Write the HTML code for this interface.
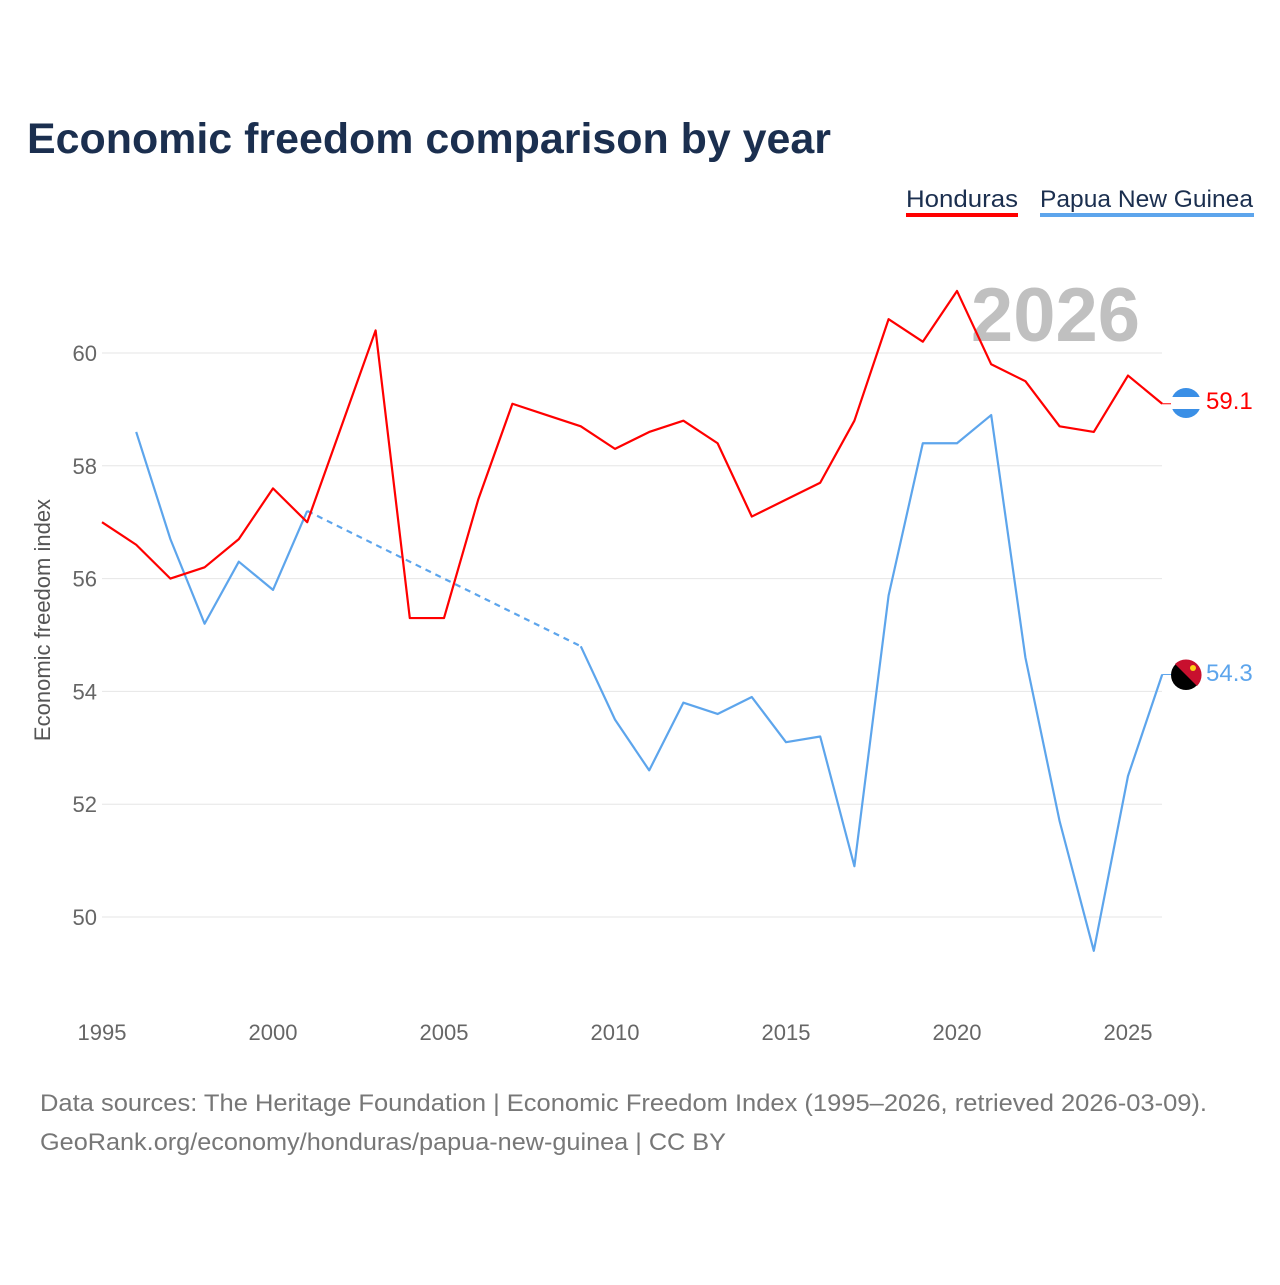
<!DOCTYPE html>
<html><head><meta charset="utf-8"><style>
body{margin:0;background:#fff;font-family:"Liberation Sans",sans-serif;}
</style></head><body>
<svg width="1280" height="1280" xmlns="http://www.w3.org/2000/svg" id="chart" style="font-family:'Liberation Sans',sans-serif">
<text x="27" y="153" font-size="43" font-weight="bold" fill="#1b2f4f" textLength="804" lengthAdjust="spacingAndGlyphs">Economic freedom comparison by year</text>
<g><text x="906" y="207" font-size="24" fill="#1b2f4f" textLength="112" lengthAdjust="spacingAndGlyphs">Honduras</text><rect x="906" y="213" width="112" height="4" fill="#ff0000"/></g>
<g><text x="1040" y="207" font-size="24" fill="#1b2f4f" textLength="213" lengthAdjust="spacingAndGlyphs">Papua New Guinea</text><rect x="1040" y="213" width="214" height="4" fill="#5da5ec"/></g>
<text x="1140" y="341" font-size="76" font-weight="bold" fill="#c0c0c0" text-anchor="end">2026</text>
<text transform="translate(50,620) rotate(-90)" font-size="22" fill="#555" text-anchor="middle">Economic freedom index</text>
<g id="grid"></g><g id="lines"></g>
<g><circle cx="1186" cy="403" r="15" fill="#3a8fe6"/><rect x="1171" y="397" width="30" height="12" fill="#fff"/></g>
<g><circle cx="1186" cy="675" r="15" fill="#000"/><path d="M1175 664 A15 15 0 0 1 1197 686 Z" fill="#c8102e"/><circle cx="1193" cy="668" r="3" fill="#fcd116"/></g>
<text x="1206" y="409" font-size="24" fill="#ff0000">59.1</text>
<text x="1206" y="681" font-size="24" fill="#5da5ec">54.3</text>
<text x="40" y="1111" font-size="24" fill="#777" textLength="1167" lengthAdjust="spacingAndGlyphs">Data sources: The Heritage Foundation | Economic Freedom Index (1995–2026, retrieved 2026-03-09).</text>
<text x="40" y="1150" font-size="24" fill="#777" textLength="686" lengthAdjust="spacingAndGlyphs">GeoRank.org/economy/honduras/papua-new-guinea | CC BY</text>
</svg>
<script>
const years=[1995,1996,1997,1998,1999,2000,2001,2002,2003,2004,2005,2006,2007,2008,2009,2010,2011,2012,2013,2014,2015,2016,2017,2018,2019,2020,2021,2022,2023,2024,2025,2026];
const honduras=[57.0,56.6,56.0,56.2,56.7,57.6,57.0,58.7,60.4,55.3,55.3,57.4,59.1,58.9,58.7,58.3,58.6,58.8,58.4,57.1,57.4,57.7,58.8,60.6,60.2,61.1,59.8,59.5,58.7,58.6,59.6,59.1];
const png=[null,58.6,56.7,55.2,56.3,55.8,57.2,null,null,null,null,null,null,null,54.8,53.5,52.6,53.8,53.6,53.9,53.1,53.2,50.9,55.7,58.4,58.4,58.9,54.6,51.7,49.4,52.5,54.3];
const yTicks=[50,52,54,56,58,60];
const xTicks=[1995,2000,2005,2010,2015,2020,2025];
const NS="http://www.w3.org/2000/svg";
const x=v=>102+(v-1995)*34.2, y=v=>353+(60-v)*56.4;
const grid=document.getElementById('grid'), lines=document.getElementById('lines');
function mk(t,a,p){const e=document.createElementNS(NS,t);for(const k in a)e.setAttribute(k,a[k]);p.appendChild(e);return e;}
yTicks.forEach(t=>{
 const l=mk('line',{x1:102,x2:1162,y1:y(t),y2:y(t),stroke:'#e6e6e6','stroke-width':1},grid);
 
 
 const tx=mk('text',{x:97,y:y(t)+8,'font-size':22,fill:'#666','text-anchor':'end'},grid);tx.textContent=t;
 
 
});
xTicks.forEach(t=>{
 const tx=mk('text',{x:x(t),y:1040,'font-size':22,fill:'#666','text-anchor':'middle'},grid);tx.textContent=t;
 
 
});
function draw(vals,color,name){
 let segs=[],cur=[],gaps=[],last=null;
 vals.forEach((v,i)=>{
  if(v==null){if(cur.length){segs.push(cur);cur=[];}return;}
  if(last!=null&&last!==i-1)gaps.push([last,i]);
  cur.push([x(years[i]),y(v)]);last=i;
 });
 if(cur.length)segs.push(cur);
 segs.forEach(s=>{
  const p=mk('polyline',{points:s.map(q=>q.join(',')).join(' '),fill:'none',stroke:color,'stroke-width':2.2,'stroke-linejoin':'round'},lines);
  
  
 });
 gaps.forEach(g=>{
  const l=mk('line',{x1:x(years[g[0]]),y1:y(vals[g[0]]),x2:x(years[g[1]]),y2:y(vals[g[1]]),stroke:color,'stroke-width':2.2,'stroke-dasharray':'6,5'},lines);
  
  
 });
 const lv=vals[vals.length-1];
 const c=mk('line',{x1:x(2026),x2:1172,y1:y(lv),y2:y(lv),stroke:color,'stroke-width':1},lines);
 
 
}
draw(png,'#5da5ec','png');
draw(honduras,'#ff0000','honduras');
</script>
</body></html>
